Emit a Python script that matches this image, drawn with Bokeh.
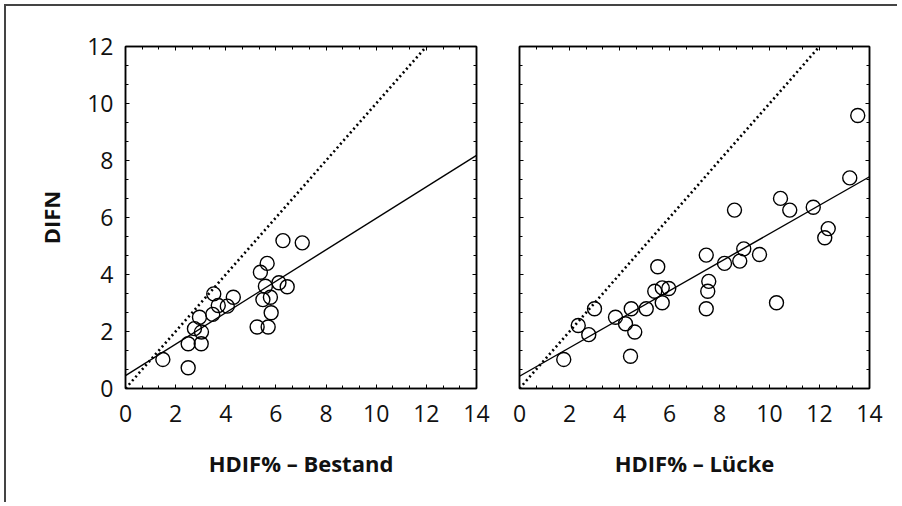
from bokeh.plotting import figure
from bokeh.layouts import row
from bokeh.models import LinearAxis, SingleIntervalTicker, Range1d, CustomJSTickFormatter
from bokeh.embed import file_html
from bokeh.resources import INLINE

# ---- data ----
bestand_x = [1.49, 2.50, 2.50, 2.75, 3.03, 3.02, 2.95, 3.48, 3.52, 3.70, 4.06, 4.30,
             5.25, 5.69, 5.81, 5.78, 5.48, 5.38, 5.65, 5.58, 6.12, 6.45, 6.28, 7.05]
bestand_y = [1.02, 0.73, 1.57, 2.10, 1.98, 1.57, 2.50, 2.60, 3.32, 2.91, 2.89, 3.20,
             2.16, 2.16, 2.66, 3.20, 3.12, 4.08, 4.39, 3.59, 3.71, 3.57, 5.19, 5.11]

luecke_x = [1.77, 2.35, 2.77, 3.00, 3.84, 4.24, 4.44, 4.61, 4.47, 5.07, 5.41, 5.71,
            5.71, 5.97, 5.53, 7.47, 7.57, 7.53, 7.47, 8.20, 8.60, 8.81, 8.97, 9.60,
            10.28, 10.44, 10.81, 11.75, 12.35, 12.21, 13.21, 13.53]
luecke_y = [1.02, 2.21, 1.89, 2.80, 2.50, 2.27, 1.13, 1.98, 2.80, 2.80, 3.41, 3.01,
            3.53, 3.51, 4.27, 4.68, 3.76, 3.41, 2.80, 4.39, 6.26, 4.47, 4.90, 4.70,
            3.01, 6.67, 6.26, 6.36, 5.61, 5.29, 7.39, 9.58]

fit_x = [0, 14]
bestand_fit_y = [0.45, 8.18]
luecke_fit_y = [0.43, 7.43]

ref_x = [0, 12]
ref_y = [0, 12]

x_limits = (0, 14)
y_limits = (0, 12)

y_title = "DIFN"
bestand_title = "HDIF% \u2013 Bestand"
luecke_title = "HDIF% \u2013 L\u00fccke"

FONT = "Open Sans"


def style_axis(ax, show_labels=True):
    ax.ticker = SingleIntervalTicker(interval=2, num_minor_ticks=3)
    ax.axis_line_color = "black"
    ax.axis_line_width = 1.5
    ax.major_tick_in = 4
    ax.major_tick_out = 0
    ax.minor_tick_in = 3
    ax.minor_tick_out = 0
    ax.major_tick_line_color = "black"
    ax.minor_tick_line_color = "black"
    ax.major_label_text_font = FONT
    ax.major_label_text_font_size = "23px"
    ax.major_label_text_color = "#111111"
    ax.axis_label_text_font = FONT
    ax.axis_label_text_font_size = "22px"
    ax.axis_label_text_font_style = "bold"
    ax.axis_label_text_color = "#111111"
    if not show_labels:
        ax.formatter = CustomJSTickFormatter(code="return ''")
        ax.major_label_standoff = 0


def make_panel(xs, ys, fit_y, xlabel, show_ylabels, width, left, right):
    p = figure(width=width, height=496, output_backend="svg", toolbar_location=None,
               x_range=Range1d(*x_limits), y_range=Range1d(*y_limits),
               min_border_left=left, min_border_right=right,
               min_border_top=40, min_border_bottom=114)
    p.xgrid.visible = False
    p.ygrid.visible = False
    p.outline_line_color = "black"
    p.outline_line_width = 1.5
    p.background_fill_color = "white"
    p.border_fill_color = "white"

    xa = p.xaxis[0]
    style_axis(xa, True)
    xa.axis_label = xlabel
    xa.major_label_standoff = 16
    xa.axis_label_standoff = 23

    ya = p.yaxis[0]
    style_axis(ya, show_ylabels)
    if show_ylabels:
        ya.axis_label = y_title
        ya.major_label_standoff = 12
        ya.axis_label_standoff = 18

    top = LinearAxis()
    style_axis(top, False)
    p.add_layout(top, "above")
    rgt = LinearAxis()
    style_axis(rgt, False)
    p.add_layout(rgt, "right")

    p.line(ref_x, ref_y, line_color="black", line_width=2.6, line_dash="2 3")
    p.line(fit_x, fit_y, line_color="black", line_width=1.4)
    p.scatter(xs, ys, marker="circle", size=14, fill_color=None,
              line_color="black", line_width=1.4)
    return p


p1 = make_panel(bestand_x, bestand_y, bestand_fit_y, bestand_title, True, 491, 119, 21)
p2 = make_panel(luecke_x, luecke_y, luecke_fit_y, luecke_title, False, 400, 22, 28)

layout = row(p1, p2, styles={"border-left": "2px solid #444444",
                             "border-top": "2px solid #444444",
                             "margin-left": "4px",
                             "margin-top": "4px",
                             "background-color": "white"})

open("out.html", "w").write(file_html(layout, INLINE))
